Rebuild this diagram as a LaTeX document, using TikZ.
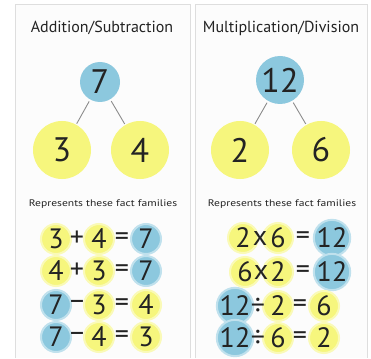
\documentclass[tikz,border=0pt]{standalone}
\usepackage{fontspec}
\setmainfont{PT Sans}
\usetikzlibrary{positioning}
\definecolor{ink}{RGB}{35,35,35}
\definecolor{bub}{RGB}{140,200,222}
\definecolor{yel}{RGB}{246,246,125}
\definecolor{edge}{RGB}{222,222,222}
\definecolor{panelbg}{RGB}{252,252,252}
\tikzset{
  panel/.style={draw=edge,line width=1pt},
  ttl/.style={font=\fontsize{16}{18}\selectfont,text=ink},
  sub/.style={font=\fontsize{9.5}{11}\selectfont,text=ink},
  topc/.style={circle,fill=bub,minimum size=40pt,inner sep=0pt,text=ink,font=\fontsize{34}{34}\selectfont},
  leaf/.style={topc,fill=yel,minimum size=58pt},
  branch/.style={draw=black!45,line width=0.9pt,shorten <=2pt,shorten >=1pt},
  dig/.style={inner sep=0pt,text=ink,font=\fontsize{28}{28}\selectfont},
  hy/.style={dig,circle,fill=yel,draw=yel!55,line width=2pt,minimum size=30pt},
  hb/.style={hy,fill=bub,draw=bub!55},
}
\begin{document}
\begin{tikzpicture}[x=1pt,y=-1pt]
  \path[use as bounding box,fill=white] (0,0) rectangle (371,358);
  % two panels, open at the bottom
  \fill[panelbg] (15,5) rectangle (190,358);
  \fill[panelbg] (195,5) rectangle (367,358);
  \draw[panel] (15,358) -- (15,5) -- (190,5) -- (190,358);
  \draw[panel] (195,358) -- (195,5) -- (367,5) -- (367,358);

  % addition / subtraction
  \node[ttl] (ttlA) at (102,28) {Addition/Subtraction};
  \node[topc] (sumA) at (100,82) {7};
  \node[leaf] (pa) at (62,150) {3};
  \node[leaf] (pb) at (140,150) {4};
  \draw[branch] (sumA) -- (pa);
  \draw[branch] (sumA) -- (pb);
  \node[sub] (subA) at (103,204) {\scalebox{1.22}[1]{Represents these fact families}};

  \node[hy] (a1) at (56,239) {3};  \node[hy] (a1b) at (99,239) {4};
  \node[hb] (a1c) at (146,239) {7};
  \node[dig] (a1o) at (77,239) {+}; \node[dig] (a1e) at (122,239) {=};
  \node[hy] (a2) at (56,271) {4};  \node[hy] (a2b) at (99,271) {3};
  \node[hb] (a2c) at (146,271) {7};
  \node[dig] (a2o) at (77,271) {+}; \node[dig] (a2e) at (122,271) {=};
  \node[hb] (a3) at (56,305) {7};  \node[hy] (a3b) at (99,305) {3};
  \node[hy] (a3c) at (146,305) {4};
  \node[dig] (a3o) at (77,305) {–}; \node[dig] (a3e) at (122,305) {=};
  \node[hb] (a4) at (56,337) {7};  \node[hy] (a4b) at (99,337) {4};
  \node[hy] (a4c) at (146,337) {3};
  \node[dig] (a4o) at (77,337) {–}; \node[dig] (a4e) at (122,337) {=};

  % multiplication / division
  \node[ttl] (ttlM) at (281,28) {Multiplication/Division};
  \node[topc,minimum size=48pt] (prodM) at (280,80) {12};
  \node[leaf] (fa) at (240,150) {2};
  \node[leaf] (fb) at (321,150) {6};
  \draw[branch] (prodM) -- (fa);
  \draw[branch] (prodM) -- (fb);
  \node[sub] (subM) at (282,204) {\scalebox{1.22}[1]{Represents these fact families}};

  \node[hy] (m1) at (243,238) {2};  \node[hy] (m1b) at (278,238) {6};
  \node[hb,minimum size=33pt] (m1c) at (332,238) {12};
  \node[dig] (m1o) at (260,238) {x}; \node[dig] (m1e) at (303,238) {=};
  \node[hy] (m2) at (245,272) {6};  \node[hy] (m2b) at (278,272) {2};
  \node[hb,minimum size=33pt] (m2c) at (332,272) {12};
  \node[dig] (m2o) at (261,272) {x}; \node[dig] (m2e) at (303,272) {=};
  \node[hb,minimum size=33pt] (m3) at (235,306) {12}; \node[hy] (m3b) at (278,306) {2};
  \node[hy] (m3c) at (324,306) {6};
  \node[dig] (m3o) at (258,306) {÷}; \node[dig] (m3e) at (300,306) {=};
  \node[hb,minimum size=33pt] (m4) at (235,338) {12}; \node[hy] (m4b) at (278,338) {6};
  \node[hy] (m4c) at (324,338) {2};
  \node[dig] (m4o) at (258,338) {÷}; \node[dig] (m4e) at (300,338) {=};
\end{tikzpicture}
\end{document}
